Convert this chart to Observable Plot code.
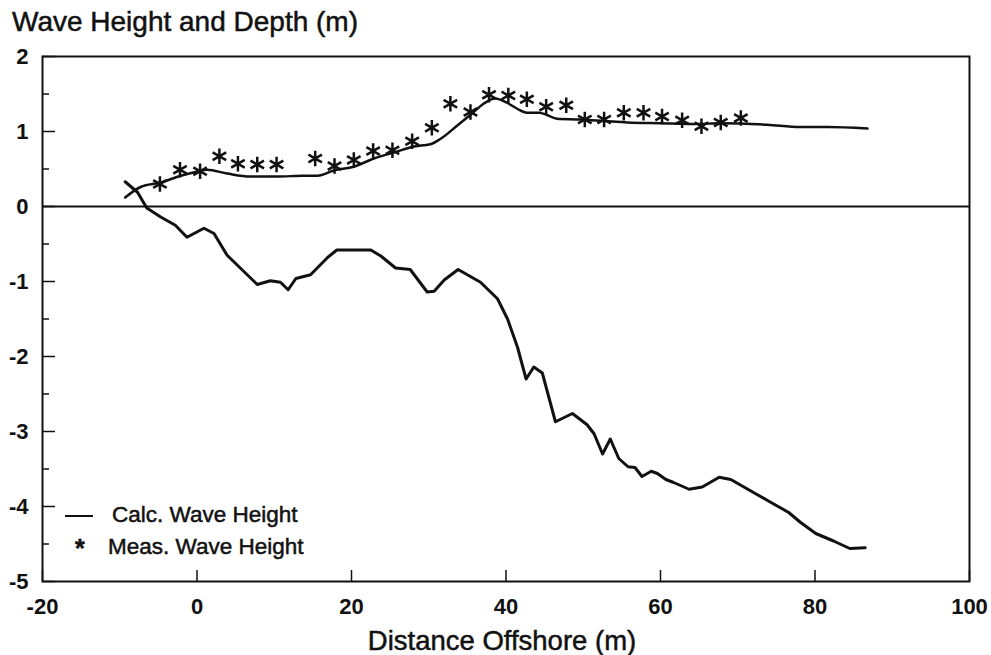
<!DOCTYPE html>
<html>
<head>
<meta charset="utf-8">
<script src="https://cdn.jsdelivr.net/npm/d3@7"></script>
<script src="https://cdn.jsdelivr.net/npm/@observablehq/plot@0.6"></script>
<style>
  body { margin: 0; background: #fff; font-family: "Liberation Sans", Arial, Helvetica, sans-serif; color: #111; }
  #wrap { position: relative; width: 991px; height: 655px; overflow: hidden; background: #fff; }
  .t { position: absolute; white-space: nowrap; line-height: 1; color: #111; -webkit-text-stroke: 0.5px #111; }
  #chart { position: absolute; left: 0; top: 44px; }
</style>
</head>
<body>
<div id="wrap">
  <div class="t" style="left:12px;top:8px;font-size:28px;">Wave Height and Depth (m)</div>
  <div id="chart"></div>
  <div class="t" style="left:502px;top:627px;font-size:27.5px;transform:translateX(-50%);">Distance Offshore (m)</div>
  <div style="position:absolute;left:65px;top:515px;width:28px;height:2px;background:#111;"></div>
  <div class="t" style="left:112px;top:504px;font-size:22.5px;">Calc. Wave Height</div>
  <div class="t" style="left:75px;top:536px;font-size:25px;font-weight:bold;">*</div>
  <div class="t" style="left:108px;top:536px;font-size:22.5px;">Meas. Wave Height</div>
</div>
<script>
// Bottom depth profile (m)
const depthDistance = [-9.3, -7.7, -6.5, -4.7, -2.8, -1.3, 0.9, 2.2, 3.9, 5.9, 7.8, 9.5, 10.8, 11.8, 12.8, 14.7, 16.9, 18.1, 19.9, 22.5, 23.8, 25.7, 27.6, 29.8, 30.7, 32.0, 33.8, 36.7, 38.9, 40.2, 41.5, 42.6, 43.6, 44.7, 46.4, 48.6, 50.5, 51.4, 52.5, 53.5, 54.6, 55.8, 56.7, 57.6, 58.8, 59.6, 60.7, 61.7, 63.7, 65.4, 67.6, 69.1, 70.8, 74.2, 76.6, 78.1, 80.1, 82.4, 84.5, 86.5];
const depthValue = [0.33, 0.19, -0.02, -0.14, -0.25, -0.41, -0.29, -0.36, -0.65, -0.85, -1.04, -0.99, -1.01, -1.11, -0.96, -0.91, -0.68, -0.58, -0.58, -0.58, -0.66, -0.82, -0.84, -1.14, -1.13, -0.98, -0.84, -1.01, -1.23, -1.50, -1.88, -2.30, -2.14, -2.22, -2.87, -2.76, -2.91, -3.03, -3.30, -3.10, -3.36, -3.47, -3.48, -3.60, -3.53, -3.56, -3.64, -3.68, -3.77, -3.74, -3.61, -3.64, -3.74, -3.94, -4.08, -4.21, -4.36, -4.46, -4.56, -4.55];

// Calculated wave height (m)
const calcDistance = [-9.3, -7.3, -4.7, -2.1, 0.2, 1.3, 3.9, 6.9, 10.4, 13.8, 15.6, 17.7, 20.3, 22.9, 25.5, 28.1, 30.2, 31.5, 33.7, 35.6, 37.1, 38.6, 40.2, 41.5, 42.7, 44.3, 45.3, 46.6, 49.6, 52.7, 55.7, 60.0, 64.3, 67.8, 73.8, 78.1, 81.6, 86.8];
const calcHeight = [0.12, 0.26, 0.32, 0.41, 0.47, 0.49, 0.44, 0.40, 0.40, 0.41, 0.41, 0.48, 0.53, 0.64, 0.72, 0.80, 0.83, 0.90, 1.08, 1.24, 1.37, 1.44, 1.38, 1.30, 1.25, 1.25, 1.22, 1.17, 1.16, 1.14, 1.12, 1.11, 1.10, 1.11, 1.09, 1.06, 1.06, 1.04];

// Measured wave height (m)
const measDistance = [-4.8, -2.2, 0.4, 2.9, 5.3, 7.8, 10.3, 15.3, 17.8, 20.3, 22.8, 25.3, 27.85, 30.4, 32.8, 35.4, 37.8, 40.3, 42.7, 45.2, 47.8, 50.2, 52.7, 55.25, 57.8, 60.2, 62.8, 65.3, 67.8, 70.4];
const measHeight = [0.30, 0.49, 0.47, 0.67, 0.57, 0.56, 0.56, 0.64, 0.54, 0.62, 0.74, 0.75, 0.87, 1.05, 1.37, 1.26, 1.49, 1.48, 1.43, 1.33, 1.35, 1.16, 1.16, 1.25, 1.25, 1.20, 1.15, 1.07, 1.12, 1.18];

// Axis ticks
const xTicks = [-20, 0, 20, 40, 60, 80, 100];
const yTicks = [-5, -4, -3, -2, -1, 0, 1, 2];
const yMinorTicks = [-4.5, -3.5, -2.5, -1.5, -0.5, 0.5, 1.5];

const depth = depthDistance.map((x, i) => ({x, y: depthValue[i]}));
const calc = calcDistance.map((x, i) => ({x, y: calcHeight[i]}));
const meas = measDistance.map((x, i) => ({x, y: measHeight[i]}));

const ink = "#111";
const fmt = d => String(d);
const W = 991, H = 581, mT = 12, mB = 44, mL = 42, mR = 22;
const frameW = W - mL - mR, frameH = H - mT - mB;
const chart = Plot.plot({
  width: W,
  height: H,
  marginTop: mT,
  marginBottom: mB,
  marginLeft: mL,
  marginRight: mR,
  style: {fontFamily: "'Liberation Sans', Arial, Helvetica, sans-serif", color: ink, background: "transparent", overflow: "visible"},
  x: {domain: [-20, 100]},
  y: {domain: [-5, 2]},
  marks: [
    Plot.ruleY([0], {stroke: ink, strokeWidth: 2}),
    Plot.line(depth, {x: "x", y: "y", stroke: ink, strokeWidth: 3, strokeLinejoin: "round"}),
    Plot.line(calc, {x: "x", y: "y", stroke: ink, strokeWidth: 2.5, strokeLinejoin: "round", curve: "monotone-x"}),
    Plot.dot(meas, {x: "x", y: "y", symbol: "asterisk", r: 7.4, stroke: ink, strokeWidth: 2.5}),
    // inward tick marks
    Plot.tickX(xTicks, {x: d => d, stroke: ink, strokeWidth: 1.5, insetTop: frameH - 11}),
    Plot.tickY(yTicks, {y: d => d, stroke: ink, strokeWidth: 1.5, insetRight: frameW - 13}),
    Plot.tickY(yMinorTicks, {y: d => d, stroke: ink, strokeWidth: 1.5, insetRight: frameW - 7}),
    // tick labels
    Plot.axisX(xTicks, {tickSize: 0, tickPadding: 17, fontSize: 22, fontWeight: "bold", label: null, fill: ink, tickFormat: fmt}),
    Plot.axisY(yTicks, {tickSize: 0, tickPadding: 14, fontSize: 22, fontWeight: "bold", label: null, fill: ink, tickFormat: fmt}),
    Plot.frame({stroke: ink, strokeWidth: 2})
  ]
});
document.getElementById("chart").appendChild(chart);
</script>
</body>
</html>
